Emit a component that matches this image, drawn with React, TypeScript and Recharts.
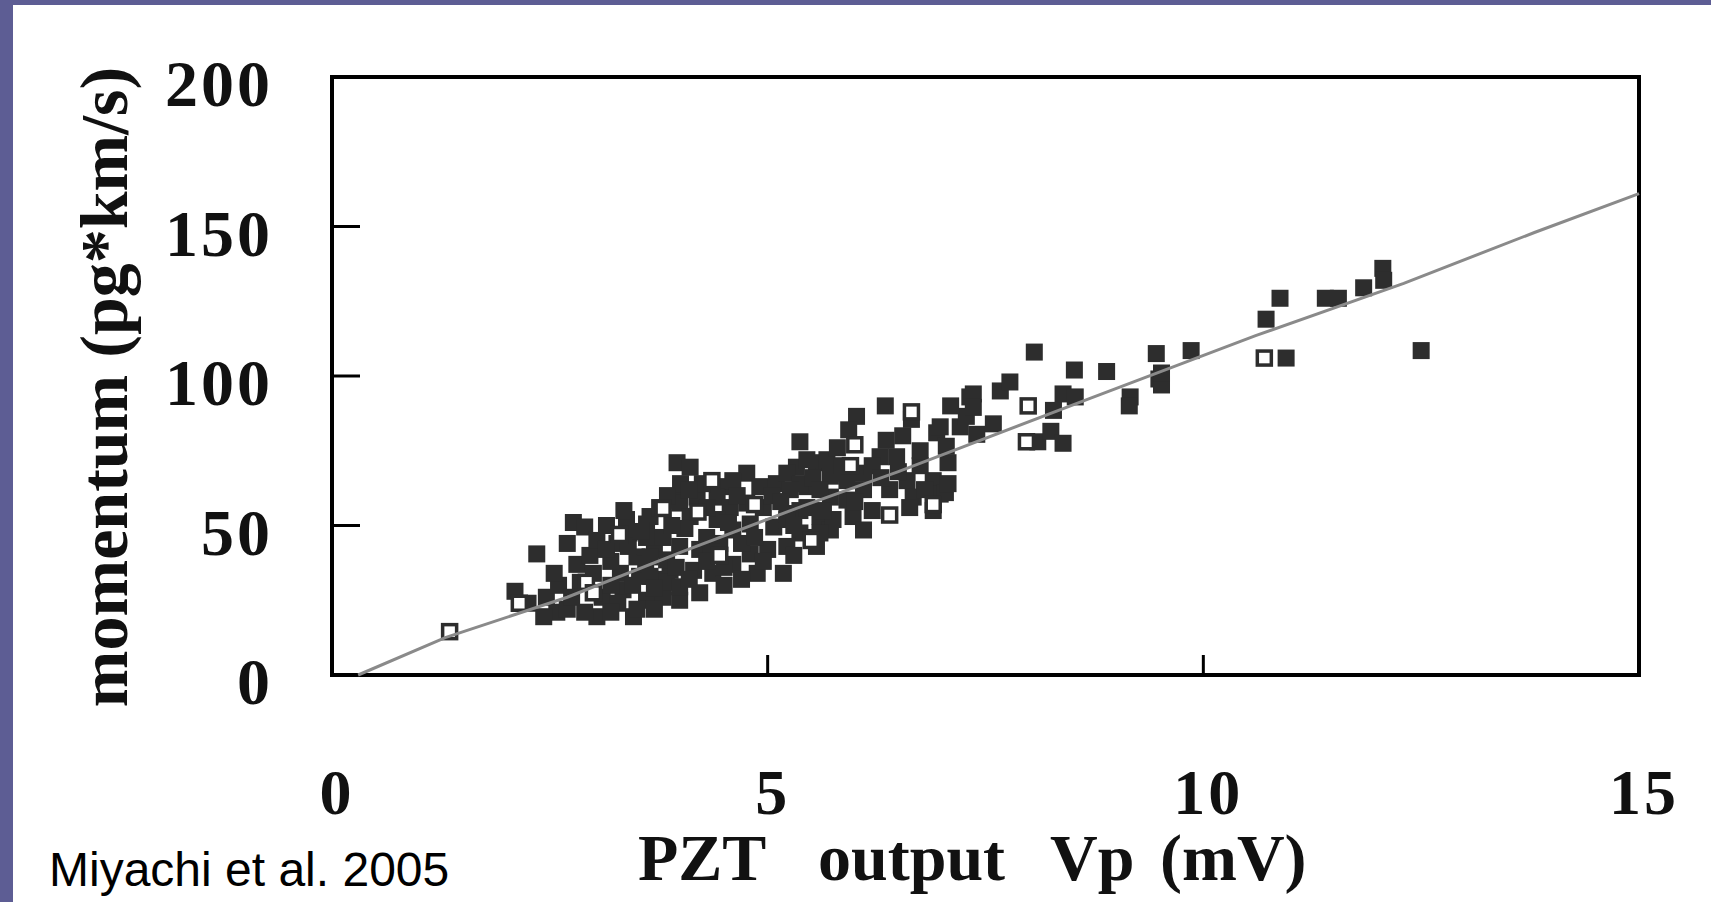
import React from "react";
import { ScatterChart, Scatter, XAxis, YAxis, ReferenceArea } from "recharts";

// axis ticks
const xTicks = [0, 5, 10, 15];
const yTicks = [0, 50, 100, 150, 200];

// measured points, [PZT output mV, momentum pg*km/s]
const filledSquares: [number, number][] = [
  [2.1, 28], [2.35, 40.5], [2.25, 24], [2.46, 26], [2.58, 21], [2.43, 19.5],
  [2.77, 51], [2.9, 49.5], [2.81, 37], [2.96, 40], [2.85, 31], [3.04, 45],
  [3.04, 19.5], [3.1, 26], [3.34, 28.5], [3.28, 24], [3.27, 44], [3.41, 47.5],
  [3.5, 39.5], [3.31, 34], [3.38, 52], [3.61, 50.5], [3.99, 58.5], [3.53, 33],
  [3.72, 32], [3.88, 35], [3.61, 25], [3.8, 26], [3.99, 25], [3.46, 19.5],
  [2.7, 22], [2.9, 21], [3.2, 21], [3.5, 22], [3.7, 22], [3.2, 30],
  [3.45, 30], [3.6, 37], [3.7, 42], [3.2, 38], [3.15, 50], [2.7, 44],
  [3.65, 53], [3.76, 56], [3.61, 46], [3.8, 46], [3.65, 39.5], [3.84, 38.5],
  [3.65, 33], [3.84, 31], [3.96, 71], [4.11, 69.5], [4.49, 63], [4.76, 67.5],
  [4.91, 63], [5.1, 64], [5.33, 69.5], [5.56, 71], [5.72, 67.5], [5.45, 63],
  [3.99, 57.5], [4.19, 59.5], [4.11, 53], [4.42, 59.5], [4.57, 56], [4.42, 52],
  [4.6, 48.5], [4.76, 57.5], [4.95, 56], [4.8, 50.5], [5.07, 49.5], [5.22, 54],
  [5.37, 55], [5.6, 53], [5.52, 46], [5.72, 48.5], [3.99, 43], [4.22, 42],
  [4.45, 44], [4.15, 35], [4.37, 34], [4.6, 37], [3.99, 29.5], [4.22, 27.5],
  [4.8, 40.5], [5.0, 42], [5.18, 34], [4.88, 34], [4.0, 64], [4.25, 64],
  [4.6, 65], [4.3, 46], [4.05, 49], [4.7, 44], [4.5, 30], [4.7, 32],
  [5.37, 78], [5.22, 67.5], [5.37, 64], [5.52, 66], [5.26, 62], [5.22, 52],
  [5.45, 56], [5.37, 47.5], [5.22, 43], [5.56, 43], [5.72, 66.5], [5.91, 65],
  [6.1, 67.5], [5.72, 59.5], [5.91, 58.5], [6.1, 62], [5.75, 52], [5.98, 53],
  [6.1, 48.5], [5.6, 47.5], [5.64, 55], [6.4, 62], [6.6, 65], [6.67, 59.5],
  [6.63, 56], [6.9, 65], [6.98, 60.5], [6.02, 86.5], [5.93, 82], [6.35, 90],
  [6.65, 85.5], [5.68, 72], [6.36, 78.5], [6.48, 73], [6.29, 73], [6.94, 81],
  [7.05, 76.5], [7.21, 83], [7.32, 93], [7.28, 86.5], [5.8, 76], [6.2, 70],
  [6.9, 55], [7.04, 61], [7.07, 64], [7.07, 71], [6.98, 83],
  [2.6, 30], [2.75, 26], [3.0, 34], [3.15, 42], [3.4, 43], [3.55, 48],
  [3.9, 50], [3.85, 60], [4.1, 62], [4.3, 56], [4.35, 41], [4.5, 36],
  [4.55, 51], [4.65, 60], [4.85, 46], [4.95, 38], [5.05, 60], [5.15, 58],
  [5.3, 50], [5.3, 40], [5.45, 72], [5.6, 62], [5.85, 70], [6.0, 58],
  [6.2, 55], [6.3, 66], [6.5, 68], [6.75, 70], [6.8, 62], [6.55, 80],
  [6.75, 75], [7.1, 90], [2.55, 34], [3.7, 29], [3.95, 36], [4.1, 32],
  [4.3, 38], [3.35, 55],
  [7.36, 94], [7.36, 89.5], [7.67, 95], [7.78, 98], [8.28, 88.5], [8.39, 94],
  [8.53, 93], [8.1, 78], [8.25, 81.5], [8.39, 77.5], [7.4, 80.5], [7.59, 84],
  [8.06, 108], [8.52, 102], [8.89, 101.5], [9.16, 93], [9.49, 99], [9.46, 107.5],
  [9.86, 108.5], [9.52, 97], [9.52, 101], [9.15, 90], [10.72, 119], [10.88, 126],
  [10.95, 106], [11.4, 126], [11.55, 126], [11.84, 129.5], [12.06, 136],
  [12.07, 132], [12.5, 108.5],
];

const openSquares: [number, number][] = [
  [1.35, 14.5], [2.15, 24], [2.92, 31], [3.0, 27.5], [3.8, 55.7], [4.36, 65],
  [4.2, 54.5], [4.85, 57], [6.0, 77], [6.65, 88], [6.4, 53.5], [7.97, 78],
  [7.99, 90], [10.7, 106], [4.45, 40], [3.3, 47], [5.5, 45], [5.95, 70], [6.9, 57],
];

// fitted curve
const fitX = [0.3, 1.3, 2.7, 4.0, 5.4, 6.5, 8.7, 10.6, 12.3, 13.8, 15];
const fitY = [0, 12.5, 26, 41, 56.5, 68, 92.5, 113.5, 131, 148, 161];

const toPoints = (pairs: [number, number][]) => pairs.map(([x, y]) => ({ x, y }));
const filledData = toPoints(filledSquares);
const openData = toPoints(openSquares);
const fitData = fitX.map((x, i) => ({ x, y: fitY[i] }));

const serif = "'Liberation Serif', 'Times New Roman', serif";
const ink = "#111";

const FilledSquare = (props: any) => {
  const { cx, cy } = props;
  return <rect x={cx - 8.5} y={cy - 8.5} width={17} height={17} fill="#2d2d2d" />;
};

const OpenSquare = (props: any) => {
  const { cx, cy } = props;
  return (
    <rect x={cx - 7} y={cy - 7} width={14} height={14} fill="#fff" stroke="#2d2d2d" strokeWidth={3.5} />
  );
};

const NoDot = () => <g />;

const YTick = (props: any) => {
  const { x, y, payload } = props;
  return (
    <text x={x} y={y + 29} textAnchor="end" fontFamily={serif} fontWeight="bold" fontSize={66} fill={ink} letterSpacing={3}>
      {payload.value}
    </text>
  );
};

const XTick = (props: any) => {
  const { x, y, payload } = props;
  return (
    <text x={x + 5} y={y} textAnchor="middle" fontFamily={serif} fontWeight="bold" fontSize={64} fill={ink} letterSpacing={3}>
      {payload.value}
    </text>
  );
};

export default function App() {
  return (
    <div style={{ position: "absolute", left: 0, top: 0, width: 1711, height: 902, background: "#5d5d94", overflow: "hidden" }}>
      <div style={{ position: "absolute", left: 13, top: 5, width: 1698, height: 897, background: "#fff" }} />
      <div style={{ position: "absolute", left: 0, top: 0 }}>
        <ScatterChart width={1711} height={902} margin={{ top: 77, right: 72, bottom: 167, left: 252 }}>
          <XAxis
            type="number"
            dataKey="x"
            domain={[0, 15]}
            ticks={xTicks}
            interval={0}
            height={60}
            axisLine={false}
            tickSize={-20}
            tickMargin={159}
            tickLine={{ stroke: "#000", strokeWidth: 3 }}
            tick={<XTick />}
          />
          <YAxis
            type="number"
            dataKey="y"
            domain={[0, 200]}
            ticks={yTicks}
            interval={0}
            width={80}
            axisLine={false}
            tickSize={-28}
            tickMargin={87}
            tickLine={{ stroke: "#000", strokeWidth: 3 }}
            tick={<YTick />}
          />
          <ReferenceArea x1={0} x2={15} y1={0} y2={200} fill="none" stroke="#000" strokeWidth={4} />
          <Scatter data={filledData} shape={<FilledSquare />} isAnimationActive={false} />
          <Scatter data={openData} shape={<OpenSquare />} isAnimationActive={false} />
          <Scatter
            data={fitData}
            line={{ stroke: "#8a8a8a", strokeWidth: 3 }}
            shape={<NoDot />}
            isAnimationActive={false}
          />
        </ScatterChart>
      </div>
      <svg width={1711} height={902} style={{ position: "absolute", left: 0, top: 0, pointerEvents: "none" }}>
        <text
          transform="translate(104 387) rotate(-90)"
          textAnchor="middle"
          dominantBaseline="central"
          fontFamily={serif}
          fontWeight="bold"
          fontSize={68}
          fill={ink}
        >
          momentum (pg*km/s)
        </text>
        <text y={880} fontFamily={serif} fontWeight="bold" fontSize={66} fill={ink}>
          <tspan x={638}>PZT</tspan>
          <tspan x={818}>output</tspan>
          <tspan x={1050}>Vp</tspan>
          <tspan x={1160}>(mV)</tspan>
        </text>
        <text x={49} y={886} fontFamily="'Liberation Sans', Arial, sans-serif" fontSize={48} fill="#000">
          Miyachi et al. 2005
        </text>
      </svg>
    </div>
  );
}
